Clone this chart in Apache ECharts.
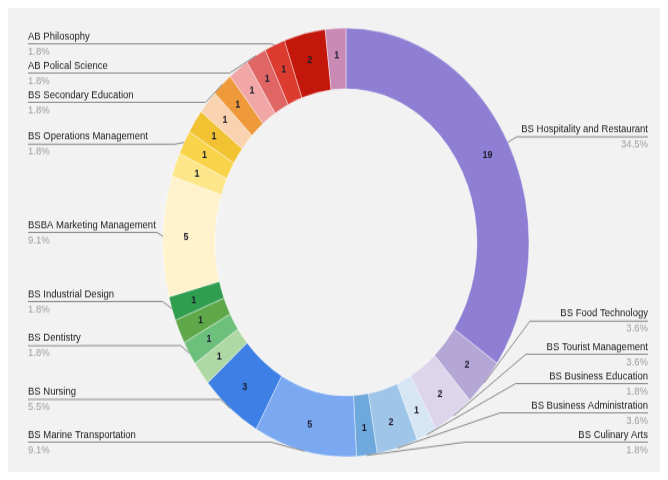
<!DOCTYPE html>
<html>
<head>
<meta charset="utf-8">
<script src="https://cdn.jsdelivr.net/npm/echarts@6/dist/echarts.min.js"></script>
<style>
html,body{margin:0;padding:0;background:#ffffff;width:668px;height:480px;overflow:hidden}
#frame{position:absolute;left:8px;top:8px;width:652px;height:464px;background:#f2f2f2;overflow:hidden}
#chart{position:absolute;left:0;top:0;width:652px;height:396px;transform:scaleY(1.1717);transform-origin:0 0}
</style>
</head>
<body>
<div id="frame"><div id="chart"></div></div>
<script>
// Programs in clockwise order from 12 o'clock (unlabelled slices have empty names)
const programs = [
  'BS Hospitality and Restaurant',
  'BS Food Technology',
  'BS Tourist Management',
  'BS Business Education',
  'BS Business Administration',
  'BS Culinary Arts',
  'BS Marine Transportation',
  'BS Nursing',
  '',
  'BS Dentistry',
  '',
  'BS Industrial Design',
  'BSBA Marketing Management',
  '',
  'BS Operations Management',
  '',
  '',
  'BS Secondary Education',
  '',
  'AB Polical Science',
  'AB Philosophy',
  '',
  ''
];
const students = [19, 2, 2, 1, 2, 1, 5, 3, 1, 1, 1, 1, 5, 1, 1, 1, 1, 1, 1, 1, 1, 2, 1];
const sliceColors = [
  '#8f7fd4', '#b4a7d6', '#dcd5ec', '#d6e6f5', '#9fc5e8', '#6fa8dc', '#7aa9f2', '#3d7fe5',
  '#b0d8a4', '#6cc07c', '#5ea84a', '#2f9e4f',
  '#fff2cc', '#fde68a', '#f9d44a', '#f1c232',
  '#f9d3b0', '#ee9a3a', '#f2a7a7', '#e06666', '#dc3c30', '#c4170c', '#c98bb5'
];

const FONT = "'Liberation Sans', Arial, sans-serif";
const NAME_SIZE = 9.5;
const measureCtx = document.createElement('canvas').getContext('2d');
measureCtx.font = NAME_SIZE + 'px ' + FONT;
function textWidth(s) { return Math.ceil(measureCtx.measureText(s).width) + 1; }
const total = students.reduce((a, b) => a + b, 0);

const ringData = programs.map((name, i) => ({
  name: name, value: students[i], itemStyle: { color: sliceColors[i] }
}));
const labelData = programs.map((name, i) => name ? ({
  name: name, value: students[i],
  label: { show: true, width: textWidth(name), rich: { u: { width: textWidth(name) } } },
  labelLine: { show: true }
}) : ({
  name: name, value: students[i],
  label: { show: false },
  labelLine: { show: false }
}));

const common = {
  type: 'pie',
  left: 20, right: 12, top: 18, bottom: 13,
  center: [318, 182],
  radius: [131, 183],
  startAngle: 90,
  clockwise: true,
  silent: true,
  animation: false
};

const chart = echarts.init(document.getElementById('chart'), null, { renderer: 'canvas' });
chart.setOption({
  backgroundColor: '#f2f2f2',
  series: [
    Object.assign({}, common, {
      name: 'ring',
      data: ringData,
      itemStyle: { borderColor: '#ffffff', borderWidth: 0.4 },
      label: {
        show: true, position: 'inside', formatter: '{c}',
        fontSize: 9, fontWeight: 'bold', color: '#1e1e2e', fontFamily: FONT
      },
      labelLine: { show: false },
      emphasis: { disabled: true }
    }),
    Object.assign({}, common, {
      name: 'labels',
      z: 3,
      data: labelData,
      avoidLabelOverlap: true,
      itemStyle: { color: 'rgba(0,0,0,0)' },
      label: {
        show: true,
        position: 'outer',
        alignTo: 'edge',
        edgeDistance: 0,
        distanceToLabelLine: 0,
        overflow: 'none',
        formatter: p => p.name
          ? '{n|' + p.name + '}\n{u| }\n{p|' + (p.value / total * 100).toFixed(1) + '%}'
          : '',
        rich: {
          n: { fontSize: NAME_SIZE, color: '#1a1a1a', fontFamily: FONT, lineHeight: 12 },
          u: { fontSize: 1, lineHeight: 1, height: 1, backgroundColor: '#8c8c8c' },
          p: { fontSize: NAME_SIZE, color: '#a0a0a0', fontFamily: FONT, lineHeight: 12 }
        }
      },
      labelLine: { show: true, length: 10, length2: 10, lineStyle: { color: '#8c8c8c', width: 1 } },
      emphasis: { disabled: true }
    })
  ]
});
</script>
</body>
</html>
